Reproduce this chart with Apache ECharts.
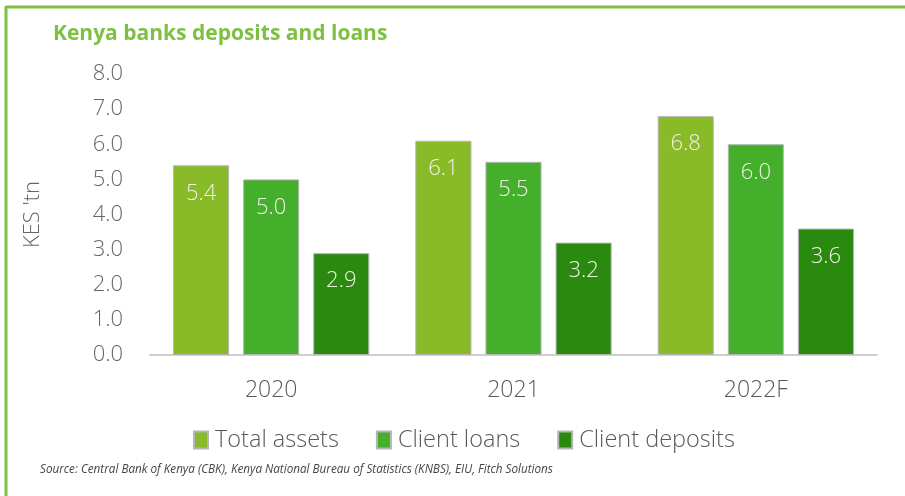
<!DOCTYPE html>
<html>
<head>
<meta charset="utf-8">
<script src="https://cdn.jsdelivr.net/npm/echarts@6/dist/echarts.min.js"></script>
<style>
html,body{margin:0;padding:0;background:#fff;}
#c{width:905px;height:496px;}
</style>
</head>
<body>
<div id="c"></div>
<script>
var categories = ['2020', '2021', '2022F'];
var totalAssets = [5.4, 6.1, 6.8];
var clientLoans = [5.0, 5.5, 6.0];
var clientDeposits = [2.9, 3.2, 3.6];
var seriesNames = ['Total assets', 'Client loans', 'Client deposits'];
var colors = ['#88BB27', '#43AF2B', '#2A8A10'];

var chart = echarts.init(document.getElementById('c'));
var FONT = '"Open Sans", sans-serif';
function mk(name, data, color) {
  return {
    name: name, type: 'bar', data: data,
    barGap: '25%', barCategoryGap: '19%',
    itemStyle: { color: color, borderColor: '#b5b5b5', borderWidth: 1 },
    label: {
      show: true, position: 'insideTop', distance: 17,
      color: '#f3f3e8', fontSize: 22, fontWeight: 300, fontFamily: FONT,
      formatter: function (p) { return p.value.toFixed(1); }
    }
  };
}
chart.setOption({
  animation: false,
  color: colors,
  graphic: [
    { type: 'line', shape: { x1: 6, y1: 7, x2: 905, y2: 7 }, style: { stroke: '#7DC142', lineWidth: 3 } },
    { type: 'line', shape: { x1: 6, y1: 6, x2: 6, y2: 496 }, style: { stroke: '#7DC142', lineWidth: 3 } },
    { type: 'text', left: 40, top: 464, style: { text: 'Source: Central Bank of Kenya (CBK), Kenya National Bureau of Statistics (KNBS), EIU, Fitch Solutions', fill: '#444', fontSize: 11.7, fontStyle: 'italic', fontFamily: FONT } }
  ],
  title: {
    text: 'Kenya banks deposits and loans', left: 48, top: 19,
    textStyle: { color: '#7DC142', fontSize: 21, fontWeight: 'bold', fontFamily: FONT }
  },
  legend: {
    data: seriesNames, left: 188, top: 423, itemGap: 37,
    itemWidth: 14, itemHeight: 17, icon: 'rect',
    textStyle: { color: '#595959', fontSize: 23.5, fontWeight: 300, fontFamily: FONT, padding: [0, 0, 0, 2] }
  },
  grid: { left: 150, right: 28, top: 74, bottom: 141 },
  xAxis: {
    type: 'category', data: categories,
    axisLine: { lineStyle: { color: '#cfcfcf', width: 2 } },
    axisTick: { show: false },
    axisLabel: { color: '#595959', fontSize: 23, fontWeight: 300, margin: 24, fontFamily: FONT }
  },
  yAxis: {
    type: 'value', min: 0, max: 8, interval: 1,
    name: "KES 'tn", nameLocation: 'middle', nameGap: 106, nameRotate: 90,
    nameTextStyle: { color: '#666', fontSize: 22, fontWeight: 300, fontFamily: FONT },
    splitLine: { show: false },
    axisLine: { show: false }, axisTick: { show: false },
    axisLabel: { color: '#666', fontSize: 22, fontWeight: 300, margin: 27, fontFamily: FONT,
      formatter: function (v) { return v.toFixed(1); } }
  },
  series: [
    mk(seriesNames[0], totalAssets, colors[0]),
    mk(seriesNames[1], clientLoans, colors[1]),
    mk(seriesNames[2], clientDeposits, colors[2])
  ]
});
</script>
</body>
</html>
